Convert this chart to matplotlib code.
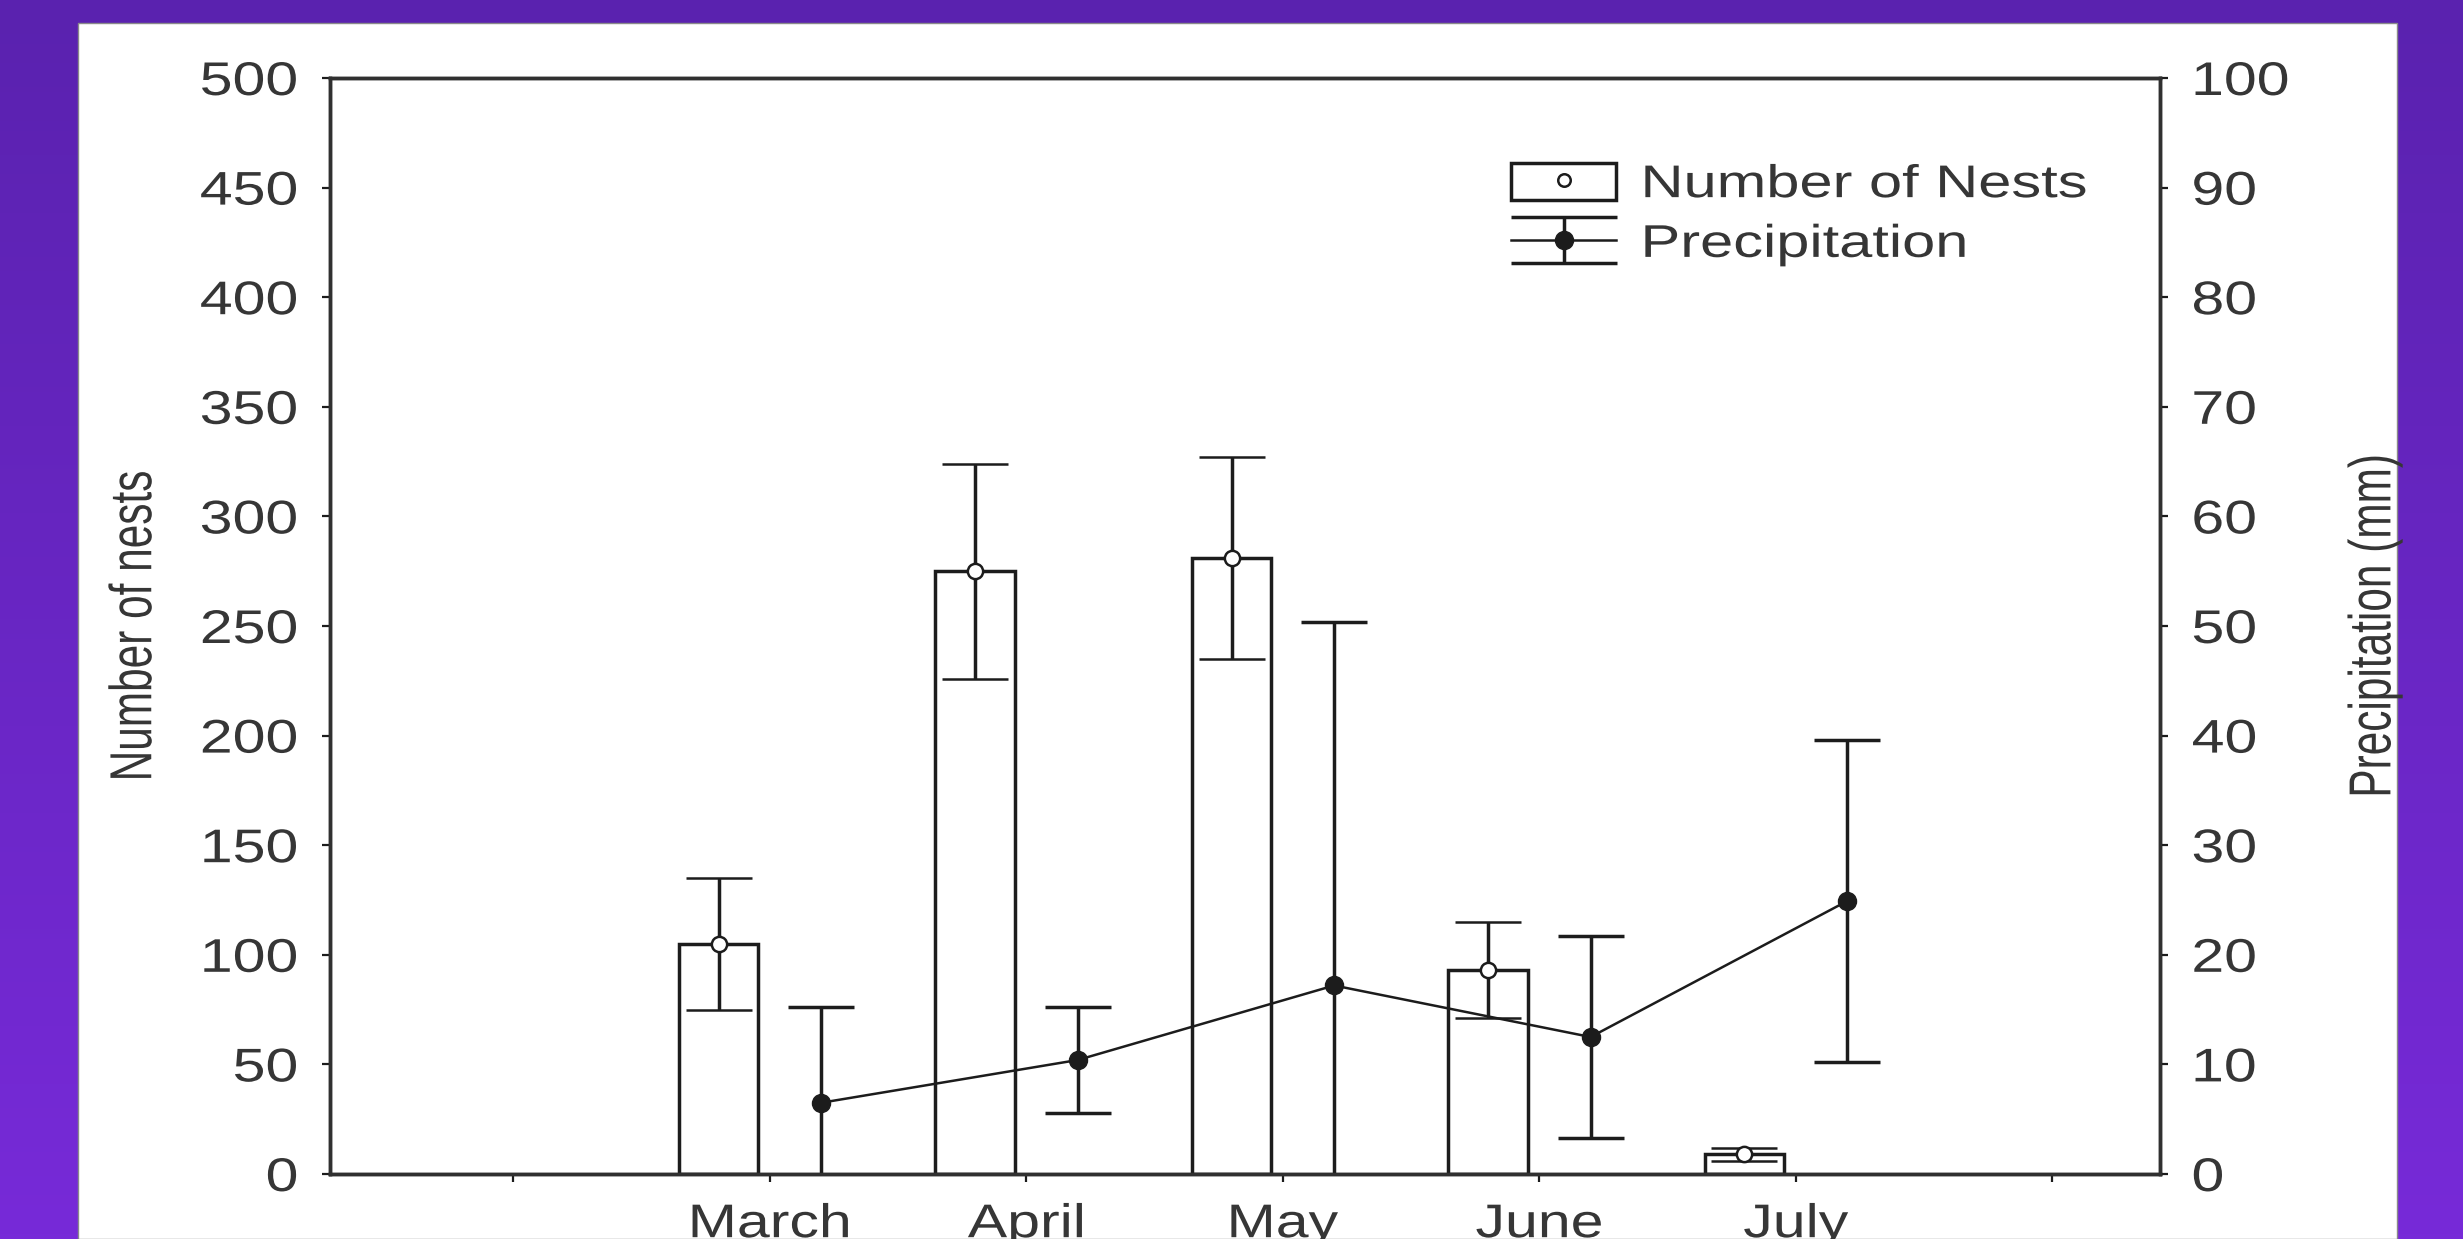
import numpy as np
import matplotlib
matplotlib.use("Agg")
import matplotlib.pyplot as plt
from matplotlib.patches import Rectangle
from matplotlib.lines import Line2D
from matplotlib.container import ErrorbarContainer
from matplotlib.legend_handler import HandlerTuple, HandlerErrorbar
from matplotlib.patheffects import AbstractPathEffect
from matplotlib.transforms import Affine2D
from matplotlib.colors import LinearSegmentedColormap

# monthly means +/- SD
months = ["March", "April", "May", "June", "July"]
nests = [105, 275, 281, 93, 9]
nests_sd = [30, 49, 46, 22, 3]
rain = [6.5, 10.4, 17.2, 12.5, 24.9]
rain_sd = [8.7, 4.8, 33.2, 9.2, 14.7]
tick_labels = [""] + months + [""]

INK = "#1c1c1c"
TXT = "#363636"
LW = 2.5

plt.rcParams["font.family"] = ["Liberation Sans", "DejaVu Sans"]


class Stretch(AbstractPathEffect):
    """Widen text glyphs (sx along the baseline, sy across it)."""

    def __init__(self, sx=1.0, sy=1.0, anchor="center"):
        super().__init__()
        self.sx, self.sy, self.anchor = sx, sy, anchor

    def draw_path(self, renderer, gc, tpath, affine, rgbFace=None):
        ext = tpath.get_extents()
        fx = {"left": ext.x0, "right": ext.x1}.get(self.anchor, (ext.x0 + ext.x1) / 2)
        fy = (ext.y0 + ext.y1) / 2
        widen = Affine2D().translate(-fx, -fy).scale(self.sx, self.sy).translate(fx, fy)
        renderer.draw_path(gc, tpath, widen + affine, rgbFace)


class WideCaps(HandlerErrorbar):
    """Errorbar legend key whose caps run the full handle width."""

    def create_artists(self, legend, orig_handle, xdescent, ydescent, width, height, fontsize, trans):
        arts = super().create_artists(legend, orig_handle, xdescent, ydescent,
                                      width, height, fontsize, trans)
        for a in arts:
            if isinstance(a, Line2D) and a.get_marker() == "_":
                a.set_markersize(width)
        return arts


W, H = 2463, 1239
fig = plt.figure(figsize=(W / 100, H / 100), dpi=100)

# purple backdrop with a white card
bg = fig.add_axes([0, 0, 1, 1], zorder=-5)
bg.axis("off")
purple = LinearSegmentedColormap.from_list("purple", ["#5a22af", "#772ad8"])
bg.imshow(np.linspace(0, 1, 256)[:, None], cmap=purple, aspect="auto", extent=[0, 1, 0, 1])
bg.set_xlim(0, 1)
bg.set_ylim(0, 1)
bg.add_patch(Rectangle((78 / W, 0), (2397 - 78) / W, 1 - 23 / H,
                       facecolor="white", edgecolor="#8a8a8a", lw=1))

ax = fig.add_axes([330 / W, 1 - 1174 / H, (2160 - 330) / W, (1174 - 78) / H])
ax.set_facecolor("none")
ax2 = ax.twinx()

x = np.arange(1, len(months) + 1)
ax.bar(x - 0.2, nests, width=0.31, color="white", edgecolor=INK, linewidth=LW, zorder=2)
ax.errorbar(x - 0.2, nests, yerr=nests_sd, fmt="o", ms=11, mfc="white", mec=INK, mew=1.8,
            ecolor=INK, elinewidth=LW, capsize=24, capthick=LW, zorder=3)
rain_bars = ax2.errorbar(x + 0.2, rain, yerr=rain_sd, fmt="-o", color=INK, lw=1.8, ms=13,
                         ecolor=INK, elinewidth=LW, capsize=24, capthick=LW)

ax.set_xlim(-0.715, 6.42)
ax.set_ylim(0, 500)
ax2.set_ylim(0, 100)
ax.set_xticks(range(len(tick_labels)))
ax.set_xticklabels(tick_labels)
ax.set_yticks(np.arange(0, 501, 50))
ax2.set_yticks(np.arange(0, 101, 10))

ax.tick_params(axis="both", direction="out", length=6, width=1.6, color=INK,
               labelsize=34, labelcolor=TXT)
ax.tick_params(axis="y", pad=17)
ax.tick_params(axis="x", pad=15)
ax2.tick_params(axis="y", direction="out", length=6, width=1.6, color=INK,
                labelsize=34, labelcolor=TXT, pad=17)
for a in (ax, ax2):
    for s in a.spines.values():
        s.set_color("#303030")
        s.set_linewidth(LW)

for t in ax.get_yticklabels():
    t.set_path_effects([Stretch(1.25, anchor="right")])
for t in ax2.get_yticklabels():
    t.set_path_effects([Stretch(1.25, anchor="left")])
for t in ax.get_xticklabels():
    t.set_path_effects([Stretch(1.25)])

ax.set_ylabel("Number of nests", fontsize=30.5, color=TXT)
ax.yaxis.set_label_coords(-0.107, 0.5)
ax2.set_ylabel("Precipitation (mm)", fontsize=30.5, color=TXT)
ax2.yaxis.set_label_coords(1.1175, 0.5)
for lab in (ax.yaxis.label, ax2.yaxis.label):
    lab.set_va("center")
    lab.set_path_effects([Stretch(1.0, 1.4)])

box = Rectangle((0, 0), 1, 1, facecolor="white", edgecolor=INK, lw=LW)
dot = Line2D([], [], ls="none", marker="o", ms=9, mfc="white", mec=INK, mew=1.8)
leg = ax2.legend([(box, dot), rain_bars], ["Number of Nests", "Precipitation"],
                 handler_map={tuple: HandlerTuple(ndivide=1),
                              ErrorbarContainer: WideCaps()},
                 loc="upper left", bbox_to_anchor=((1511 - 330) / 1830, (1174 - 163) / 1096),
                 frameon=False, fontsize=33, handlelength=2.3, handleheight=0.85,
                 handletextpad=0.55, labelspacing=0.34, borderpad=0, borderaxespad=0)
for t in leg.get_texts():
    t.set_color(TXT)
    t.set_path_effects([Stretch(1.3, anchor="left")])

fig.savefig("out.png", dpi=100)
